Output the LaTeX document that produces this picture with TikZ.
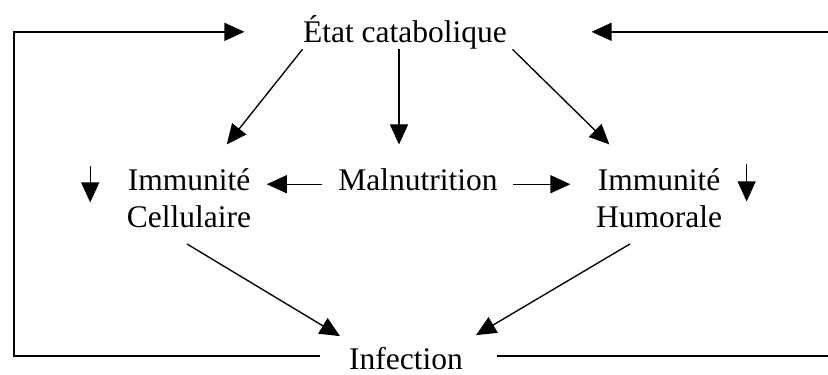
\documentclass[tikz,border=0pt]{standalone}
\usepackage{fontspec}
\setmainfont{Liberation Serif}
\usepackage{tikz}
\usetikzlibrary{arrows.meta}

\begin{document}
\begin{tikzpicture}[->,>={Triangle[length=20pt,width=18pt]},line width=1.35pt,
                    x=1pt,y=-1pt]
  \tikzstyle{every node}=[inner sep=0pt,anchor=base,align=center,
                          font=\fontsize{31.5}{37}\selectfont]
  \useasboundingbox (0,0) rectangle (828,375);

  \node (Etat) at (405,42)  {État catabolique};
  \node (Mal)  at (418,190) {Malnutrition};
  \node (Cell) at (189,227) {Immunité\\Cellulaire};
  \node (Hum)  at (659,227) {Immunité\\Humorale};
  \node (Inf)  at (406,369) {Infection};

  \coordinate (lc) at (14,31);
  \coordinate (rc) at (834,31);

  % feedback loops
  \draw[shorten <=28pt,shorten >=58pt] ([yshift=2pt]Inf.west) -| (lc) |- (Etat.west);
  \draw[shorten <=33pt,shorten >=84pt] ([yshift=2pt]Inf.east) -| (rc) |- (Etat.east);

  \path (Etat.south west)          edge ([xshift=-25pt,yshift=23pt]Cell.north east)
        ([xshift=-6pt]Etat.south)  edge ([xshift=-19pt,yshift=23pt]Mal.north)
        ([xshift=5pt]Etat.south east) edge ([xshift=14pt,yshift=23pt]Hum.north west)
        ([yshift=-5pt]Mal.west)    edge [shorten <=16pt,shorten >=15pt] ([yshift=-5pt]Mal.west -| Cell.east)
        ([yshift=-5pt]Mal.east)    edge [shorten <=15pt,shorten >=25pt] ([yshift=-5pt]Mal.east -| Hum.west)
        ([xshift=-2pt,yshift=-16pt]Cell.south)  edge ([xshift=-66pt,yshift=10pt]Inf.north)
        ([xshift=-29pt,yshift=-16pt]Hum.south) edge ([xshift=70pt,yshift=11pt]Inf.north);

  % decrease marks
  \draw (Cell.north west) ++(-36,-1) -- ++(0,36);
  \draw (Hum.north east) ++(24,-3) -- ++(0,37);
\end{tikzpicture}
\end{document}
